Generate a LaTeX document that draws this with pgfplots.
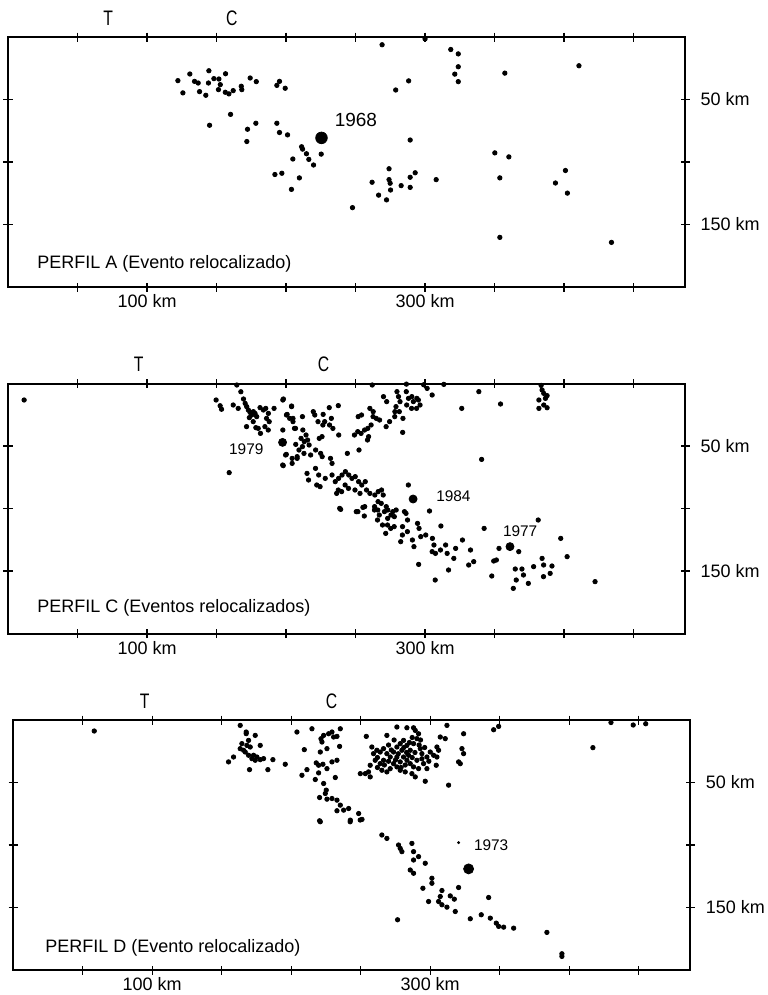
\documentclass[border=0pt]{standalone}
\usepackage{fontspec}
\setmainfont{Liberation Sans}
\newfontfamily\narrowfont[FakeStretch=0.75]{Liberation Sans}
\usepackage{pgfplots}
\pgfplotsset{compat=1.18}

\pgfplotsset{
  perfil/.style={
    scale only axis,
    width=338.5pt, height=125pt,
    xmin=0, xmax=487, ymin=0, ymax=200,
    y dir=reverse,
    axis line style={line width=1pt},
    tick align=center,
    major tick length=4.5pt,
    tick style={line width=0.6pt, black},
    xtick={50,100,...,450},
    xticklabels={,100 km,,,,300 km,,,},
    ytick={50,100,150},
    yticklabels={50 km,,150 km},
    yticklabel pos=right,
    ytick pos=both,
    xtick pos=both,
    xticklabel pos=bottom,
    tick label style={font=\fontsize{9}{10}\selectfont},
    yticklabel style={xshift=2pt},
    xticklabel style={inner ysep=1.3pt},
    clip=false,
  },
  ev/.style={only marks, mark=*, mark size=1.1pt, black},
}
\tikzset{
  lbl/.style={anchor=base west, font=\fontsize{9}{10}\selectfont},
  yr/.style={anchor=base west, font=\fontsize{7.7}{9}\selectfont},
  tc/.style={anchor=base, font=\narrowfont\fontsize{10.5}{11}\selectfont},
}

\begin{document}
\begin{tikzpicture}
% ---------------- PERFIL A
\begin{axis}[perfil, at={(4pt,-18.5pt)}, anchor=north west]
\addplot[ev] coordinates {
(122.2,34.9) (125.8,44.7) (130.8,29.6) (134.2,35.5) (136.8,36.8) (137.8,43.7)
(142.3,46.6) (144.5,27) (144.2,36.8) (148.1,33.3) (151.7,33.6) (151.4,42.1)
(152.7,38.1) (156.5,29.4) (156.3,44.2) (158.9,45.5) (162,42.9) (167.8,39.4)
(168.2,42.1) (174.2,32.8) (178.6,35.7) (193.4,38.7) (195.3,35.5) (199.4,41)
(160.1,61.9) (145,70.6) (172.3,73.8) (178.3,69) (171.8,83.6) (193.4,69)
(195.3,76.4) (201.1,78.3) (211.2,87.8) (211.9,89.7) (214.7,93.4) (204.9,97.6)
(216.4,97.9) (219.8,102.4) (225.3,93.7)
(269.1,6.2) (318.5,10) (323.9,13.5) (323.9,23.8) (321.4,29.7) (323.9,35.7)
(357.4,28.9) (410.7,23) (288.2,35.1) (278.9,42.4) (289.3,82.4)
(350.2,92.7) (360.3,95.9) (353.8,112.7) (401,106.8) (393.8,116.8) (402.4,124.9)
(308,114.1) (292.9,108.6) (289.3,112.2) (289.3,120.3) (282.8,118.9)
(274.1,105.4) (274.1,114.1) (274.9,117) (275.2,122.4) (261.9,116.2)
(266.6,126.5) (272.3,130.3) (247.8,136.5) (353.8,160.3) (434.1,164.3)
(192,110) (197,109) (209.6,112.7) (203.9,121.9) (300,1.5)
};
\addplot[ev, mark size=2.9pt] coordinates {(225.5,80.7)};
\node[yr, font=\fontsize{9.5}{10}\selectfont] at (axis cs:230,71.5) {1968};
\node[lbl] at (axis cs:16,185) {PERFIL A (Evento relocalizado)};
\node[tc, yshift=6pt] at (axis cs:72,0) {T};
\node[tc, yshift=6pt] at (axis cs:161,0) {C};
\end{axis}

% ---------------- PERFIL C
\begin{axis}[perfil, at={(4pt,-191.75pt)}, anchor=north west]
\addplot[ev] coordinates {
(11.6,13.2) (164.6,1.2) (167.5,6.6) (149.7,13.2) (152.6,17.8) (153.6,20.6)
(162,17.2) (165.6,19.9) (169.4,12.4) (170.6,15.9) (171.7,18.5) (172.9,21.2)
(174.1,23.1) (175.3,25.2) (176.5,22.5) (177.7,23.9) (178.9,26.5) (173.6,27.3)
(171.6,34.5) (176.4,30.5) (178.3,35.3) (181.3,19.3) (183.7,21.2) (185.4,19.9)
(187.3,23.9) (191.4,19.9) (186,27.9) (187.9,30.5) (184.8,34.5) (187.2,37.2)
(181.6,39.9) (180,35.9) (159.1,71.3) (197.7,13.2) (204,18) (200.8,24.7)
(205,27.9) (206.1,35.9) (197.7,37.2) (207,48.7) (200.2,56.7) (204.4,63.9)
(198,65.7) (208,59.9)
(262,1.2) (286.6,0.5) (299,1) (301.5,3.9) (305.1,9.2) (313.5,0.7) (338.7,6.5)
(354.3,16.4) (326.4,19.9) (340.7,60.7)
(383.5,1.5) (384.2,5.2) (385.4,7.9) (387.8,9.7) (386.6,11.9) (381.9,13.2)
(385.4,17.2) (381.9,19.9) (387.8,19.4)
(279.8,6.5) (280.9,10.5) (282,14.5) (279.1,18.5) (281.5,22.5) (278.2,26.5)
(284.1,27.9) (286.8,17.2) (288.1,11.9) (290.5,10.5) (291.6,14.5) (294.1,11.9)
(295.2,13.2) (296.4,17.2) (293.9,19.9) (290.3,19.9) (286.5,6.5) (270.1,10.5)
(272.4,14.5) (278.3,22.5) (274.5,30.5) (272,34.5) (267.3,29.2) (264.9,27.9)
(262.6,26.5) (261.2,33.2) (258.8,35.9) (256.5,37.2) (254,39.9) (251.6,38.5)
(249.2,41.2) (260.3,19.9) (262.7,22.5) (254.3,25.2) (251.9,26.5) (252.5,53.2)
(244.1,55.9) (258.6,45.2) (283.9,39.1) (259.4,42.5)
(198.1,12.4) (204,18.5) (200.3,25.2) (202.6,27.9) (205,30.5) (211.8,26.5)
(206.8,35.9) (212.1,37.2) (214.4,41.2) (210.8,43.9) (213.1,46.5) (215.5,45.2)
(216.6,49.2) (211.8,50.5) (209.3,53.2) (212.9,55.9) (208,58.5) (204.4,59.9)
(199.7,57.2) (197.6,65.2) (217.7,57.2) (221.3,53.2) (224.9,55.9) (226,58.5)
(232,59.9) (233.1,63.9) (225.9,42.5) (223.9,43.9) (219.6,22.5) (220.7,25.2)
(223,30.5) (226.7,24.7) (227.8,30.5) (231.3,33.2) (233.7,35.9) (232.6,27.9)
(231.1,19.3) (237.6,17.7) (237.9,41.2) (226.5,33.2)
(215.1,71.9) (216.2,77.2) (221.2,67.9) (223.5,73.2) (222.1,81.2) (224.5,82.5)
(228.2,75.9) (233.1,73.2) (235.4,78.5) (237.8,75.9) (240.3,73.2) (242.7,70.5)
(245.1,73.2) (247.4,75.9) (249.8,74.5) (252.2,78.5) (254.5,81.2) (257,78.5)
(242.5,81.2) (244.9,83.9) (240,86.5) (236.4,87.9) (237.6,85.2) (249.6,85.2)
(253.2,87.9) (257.9,85.2) (260.3,87.9) (263.9,89.2) (266.3,86.5) (268.7,85.2)
(269.9,89.2) (266.2,94.5) (268.5,95.9) (272.1,98.5) (273.2,101.2) (263.7,98.5)
(266,101.2) (256.6,98.5) (251.7,102.5) (238.6,99.9) (276.8,102.5) (285.2,102.5)
(288,81.2) (303.2,102)
(239.3,100.7) (250.5,102.5) (255.3,99.1) (256.3,106) (263.6,101.2)
(267.1,105.2) (270.8,102.5) (273.1,107.9) (275.5,105.2) (277.9,106.5)
(279.2,101.2) (286.3,103.9) (287.4,109.2) (294.6,111.9) (265.8,109.2)
(269.4,113.2) (273,113.2) (271.7,119.9) (275.3,115.9) (277.8,114.5)
(283.8,114.5) (283.7,121.2) (282.5,126.5) (287.3,118.5) (290.9,125.2)
(292,130.5) (295.7,115.9) (296.9,122.5) (300.5,121.2) (305.3,123.9)
(306.4,129.2) (305.1,134.5) (307.5,135.9) (311.1,133.2) (311.4,114)
(314.8,129.2) (315.9,135.9) (322,131.9) (320.7,139.9) (326.9,125.2)
(332.7,133.2) (331.4,145.2) (335,142.5) (316.9,149.2) (295.4,144.7)
(307.3,157.2) (342.5,115.9) (349.4,142) (351.3,141.2) (353.2,131.9)
(348,154) (381.4,109.2) (397.6,123.9) (402.2,138.5) (367.4,134.5)
(384.2,139.9) (385.3,145.2) (391.3,146) (390,151.9) (378.1,146.5)
(364.9,148.4) (369.7,148.4) (370.8,153.2) (365.6,157.2) (374.3,159.9)
(363.5,163.9) (385.2,154.5) (422.3,158.5)
};
\addplot[ev, mark size=2pt] coordinates {(197.5,47.1) (291.4,92.4) (361.1,130.5)};
\node[yr] at (axis cs:154,57) {1979};
\node[yr] at (axis cs:303,94.6) {1984};
\node[yr] at (axis cs:351,122.6) {1977};
\node[lbl] at (axis cs:16,183) {PERFIL C (Eventos relocalizados)};
\node[tc, yshift=6pt] at (axis cs:94,0) {T};
\node[tc, yshift=6pt] at (axis cs:227,0) {C};
\end{axis}

% ---------------- PERFIL D
\begin{axis}[perfil, at={(6.6pt,-360pt)}, anchor=north west]
\addplot[ev] coordinates {
(58.3,8.8) (163.3,4.3) (167.6,9.6) (167.6,10.9) (174.1,12.3) (169.3,16.3)
(164.5,18.9) (163.3,22.9) (165.7,24.2) (168.1,20.3) (170.5,21.6) (177.7,20.3)
(166.9,25.6) (169.3,28.2) (172.9,28.2) (175.3,29.6) (171.7,30.9) (174.1,32.2)
(177.7,31.7) (180.1,30.9) (158.5,29.6) (154.9,33.5) (186.8,31.7) (195.7,35.4)
(170,39.7) (183.2,39.7) (204.1,9.6)
(214.9,7) (221.4,15) (222.1,17.6) (223.3,12.3) (226.9,11) (229.3,9.6)
(230.5,13.6) (232.9,13.1) (235.3,7) (234.8,21.1) (225.7,22.9) (220.9,25.6)
(209.4,23.7) (218,34.3) (219.7,36.2) (222.8,35.4) (225.7,38.9) (229.3,33.5)
(232.9,32.2) (211.3,39.7) (207.7,44.2) (217.3,47.6) (219.7,42.3) (223.3,50.8)
(225.2,56.1) (224.5,58.8) (220.4,62) (225.7,63.3) (229.3,62.8) (232.9,64.1)
(235.3,68.1) (232.9,72.6) (237.7,72.1) (241.3,70.8) (248.5,74.8) (242.5,80.1)
(250.9,79.5) (220.4,80.6) (231.7,46) (249.7,42.9) (254,13.1)
(258,21.6) (259.2,26.9) (260.4,32.2) (256.8,36.2) (255.6,41.5) (256.8,45.5)
(261.6,24.2) (264,25.6) (266.4,22.9) (268.8,26.9) (271.2,29.6) (273.6,25.6)
(276,21.6) (278.4,18.9) (280.8,16.3) (283.2,20.3) (285.6,24.2) (288,18.9)
(290.4,14.9) (289.2,8.3) (291.6,11) (292.8,22.9) (294,26.9) (290.4,32.2)
(288,37.5) (285.6,34.9) (283.2,32.2) (280.8,29.6) (278.4,33.5) (276,37.5)
(273.6,34.9) (271.2,38.9) (268.8,41.5) (265.2,40.2) (264,34.9) (266.4,32.2)
(278.4,40.2) (282,41.5) (286.8,42.9) (289.2,45.5) (291.6,38.9) (295.2,34.9)
(297.6,29.6) (300,25.6) (302.4,28.2) (304.8,29.6) (306,24.2) (304.8,21.6)
(307.2,13.6) (310.8,14.9) (312,4.3) (324,11) (322.8,22.9) (324,26.9)
(321.6,34.9) (320.4,33.5) (313.2,52.1) (296.4,49) (276,5.6) (283.2,6.2)
(288,6.2) (268.8,12.3) (276,29.6) (279.6,24.2) (284.4,28.2) (297.6,38.9)
(304.3,36.2) (253.3,42.9) (345.6,7.8) (349.2,5.1) (417,22.1) (430,2)
(446,4) (455,3)
(262,30) (270,20) (274,16) (277,27) (281,22) (285,18) (287,30) (289,26)
(292,20) (294,31) (296,22) (282,36) (279,38) (270,33) (267,36) (275,32)
(283,26) (287,14) (293,16) (299,33) (262,38) (272,24)
(220.9,81.4) (242.4,81.4) (249.6,80) (265.2,92) (268.8,94.7) (277.2,100)
(278.4,102.7) (279.6,105.3) (286.8,98.7) (288,105.3) (291.6,109.3) (288,112)
(296.4,114.6) (285.6,120) (288,122.6) (301.2,126.6) (301.2,130.6)
(294.7,134.6) (298.8,145.2) (308.4,136.4) (307.2,141.2) (306,145.2)
(308.4,147.8) (312,149.7) (314.4,140.7) (317.3,143.3) (320.4,134) (318,153.2)
(328.8,159) (336.7,155.8) (342,142) (343.2,158.5) (347.5,162.5) (349.2,165.1)
(352.8,165.7) (360,166.5) (383.9,169.9) (394.7,189.1) (394.7,187)
(276.5,159.8)
};
\addplot[ev, mark size=0.5pt] coordinates {(320.4,98.1)};
\addplot[ev, mark size=2.5pt] coordinates {(327.6,119.1)};
\node[yr] at (axis cs:326.4,104) {1973};
\node[lbl] at (axis cs:18,186) {PERFIL D (Evento relocalizado)};
\node[tc, yshift=6pt] at (axis cs:94.5,0) {T};
\node[tc, yshift=6pt] at (axis cs:229,0) {C};
\end{axis}
\pgfresetboundingbox
\path (0pt,0pt) rectangle (383.5pt,-497.5pt);
\end{tikzpicture}
\end{document}
